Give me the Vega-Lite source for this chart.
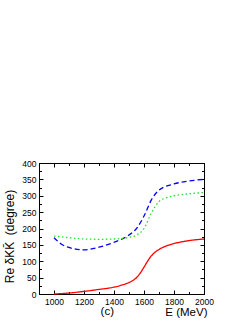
{
  "$schema": "https://vega.github.io/schema/vega-lite/v6.json",
  "autosize": {"type": "none"},
  "width": 165,
  "height": 131,
  "padding": {"left": 39, "top": 163, "right": 45, "bottom": 29},
  "background": "white",
  "config": {
    "view": {"stroke": "black", "strokeWidth": 1},
    "font": "Liberation Sans",
    "axis": {"labelFont": "Liberation Sans", "titleFont": "Liberation Sans", "labelColor": "black", "titleColor": "black", "domainColor": "black", "tickColor": "black", "grid": false, "titleFontWeight": "normal"}
  },
  "datasets": {
    "curves": [
      {"E": 1000, "v": 0, "s": "red"},
      {"E": 1100, "v": 3, "s": "red"},
      {"E": 1200, "v": 8, "s": "red"},
      {"E": 1300, "v": 14, "s": "red"},
      {"E": 1400, "v": 21, "s": "red"},
      {"E": 1450, "v": 27, "s": "red"},
      {"E": 1500, "v": 35, "s": "red"},
      {"E": 1525, "v": 41, "s": "red"},
      {"E": 1550, "v": 50, "s": "red"},
      {"E": 1575, "v": 64, "s": "red"},
      {"E": 1600, "v": 82, "s": "red"},
      {"E": 1625, "v": 101, "s": "red"},
      {"E": 1650, "v": 117, "s": "red"},
      {"E": 1675, "v": 128, "s": "red"},
      {"E": 1700, "v": 136, "s": "red"},
      {"E": 1750, "v": 147, "s": "red"},
      {"E": 1800, "v": 154, "s": "red"},
      {"E": 1900, "v": 163, "s": "red"},
      {"E": 2000, "v": 168, "s": "red"},
      {"E": 1000, "v": 172, "s": "blue"},
      {"E": 1050, "v": 152, "s": "blue"},
      {"E": 1100, "v": 142, "s": "blue"},
      {"E": 1200, "v": 135, "s": "blue"},
      {"E": 1300, "v": 143, "s": "blue"},
      {"E": 1400, "v": 158, "s": "blue"},
      {"E": 1500, "v": 180, "s": "blue"},
      {"E": 1550, "v": 200, "s": "blue"},
      {"E": 1600, "v": 238, "s": "blue"},
      {"E": 1650, "v": 288, "s": "blue"},
      {"E": 1700, "v": 317, "s": "blue"},
      {"E": 1800, "v": 336, "s": "blue"},
      {"E": 1900, "v": 345, "s": "blue"},
      {"E": 2000, "v": 350, "s": "blue"},
      {"E": 1000, "v": 177, "s": "green"},
      {"E": 1100, "v": 172, "s": "green"},
      {"E": 1200, "v": 168, "s": "green"},
      {"E": 1300, "v": 167, "s": "green"},
      {"E": 1400, "v": 168, "s": "green"},
      {"E": 1500, "v": 173, "s": "green"},
      {"E": 1550, "v": 180, "s": "green"},
      {"E": 1600, "v": 200, "s": "green"},
      {"E": 1650, "v": 248, "s": "green"},
      {"E": 1700, "v": 282, "s": "green"},
      {"E": 1750, "v": 294, "s": "green"},
      {"E": 1800, "v": 300, "s": "green"},
      {"E": 1900, "v": 306, "s": "green"},
      {"E": 2000, "v": 310, "s": "green"}
    ],
    "label": [{"E": 1355, "v": -55, "t": "(c)"}]
  },
  "layer": [
    {
      "data": {"name": "curves"},
      "mark": {"type": "line", "interpolate": "monotone", "strokeWidth": 1.3},
      "encoding": {
        "x": {"field": "E", "type": "quantitative", "scale": {"domain": [900, 2000], "nice": false},
          "axis": {"orient": "bottom", "values": [1000, 1100, 1200, 1300, 1400, 1500, 1600, 1700, 1800, 1900, 2000], "labelExpr": "datum.value % 200 == 0 ? datum.label : ''", "labelFlush": false, "labelOverlap": false, "tickSize": {"condition": {"test": "datum.value % 200 == 0", "value": -4}, "value": -2.5}, "labelPadding": 7, "labelFontSize": 8.5, "format": "d",
            "title": "E (MeV)", "titleFontSize": 11.5, "titleAnchor": "end", "titleAlign": "right", "titleBaseline": "middle", "titleX": 168, "titleY": 18}},
        "y": {"field": "v", "type": "quantitative", "scale": {"domain": [0, 400], "nice": false},
          "axis": {"orient": "left", "values": [0, 25, 50, 75, 100, 125, 150, 175, 200, 225, 250, 275, 300, 325, 350, 375, 400], "labelExpr": "datum.value % 50 == 0 ? datum.label : ''", "labelFlush": false, "labelOverlap": false, "tickSize": {"condition": {"test": "datum.value % 50 == 0", "value": -4}, "value": -2.5}, "labelPadding": 7, "labelFontSize": 8.5,
            "title": "Re δKK̄\u00a0\u00a0(degree)", "titleFontSize": 12, "titleAlign": "center", "titleBaseline": "middle", "titleX": -30, "titleY": 73}},
        "color": {"field": "s", "type": "nominal", "legend": null, "scale": {"domain": ["red", "blue", "green"], "range": ["#ff0000", "#0000ff", "#22e022"]}},
        "strokeDash": {"field": "s", "type": "nominal", "legend": null, "scale": {"domain": ["red", "blue", "green"], "range": [[1, 0], [5, 3], [1.5, 2.5]]}}
      }
    },
    {
      "data": {"name": "curves"},
      "mark": {"type": "point", "opacity": 0},
      "encoding": {
        "x": {"field": "E", "type": "quantitative",
          "axis": {"orient": "top", "values": [1000, 1100, 1200, 1300, 1400, 1500, 1600, 1700, 1800, 1900, 2000], "labels": false, "tickSize": {"condition": {"test": "datum.value % 200 == 0", "value": -4}, "value": -2.5}, "title": null}},
        "y": {"field": "v", "type": "quantitative",
          "axis": {"orient": "right", "values": [0, 25, 50, 75, 100, 125, 150, 175, 200, 225, 250, 275, 300, 325, 350, 375, 400], "labels": false, "tickSize": {"condition": {"test": "datum.value % 50 == 0", "value": -4}, "value": -2.5}, "title": null}}
      }
    },
    {
      "data": {"name": "label"},
      "mark": {"type": "text", "fontSize": 11.5, "font": "Liberation Sans", "color": "black", "baseline": "middle"},
      "encoding": {
        "x": {"field": "E", "type": "quantitative", "axis": null},
        "y": {"field": "v", "type": "quantitative", "axis": null},
        "text": {"field": "t"}
      }
    }
  ],
  "resolve": {"axis": {"x": "independent", "y": "independent"}}
}
